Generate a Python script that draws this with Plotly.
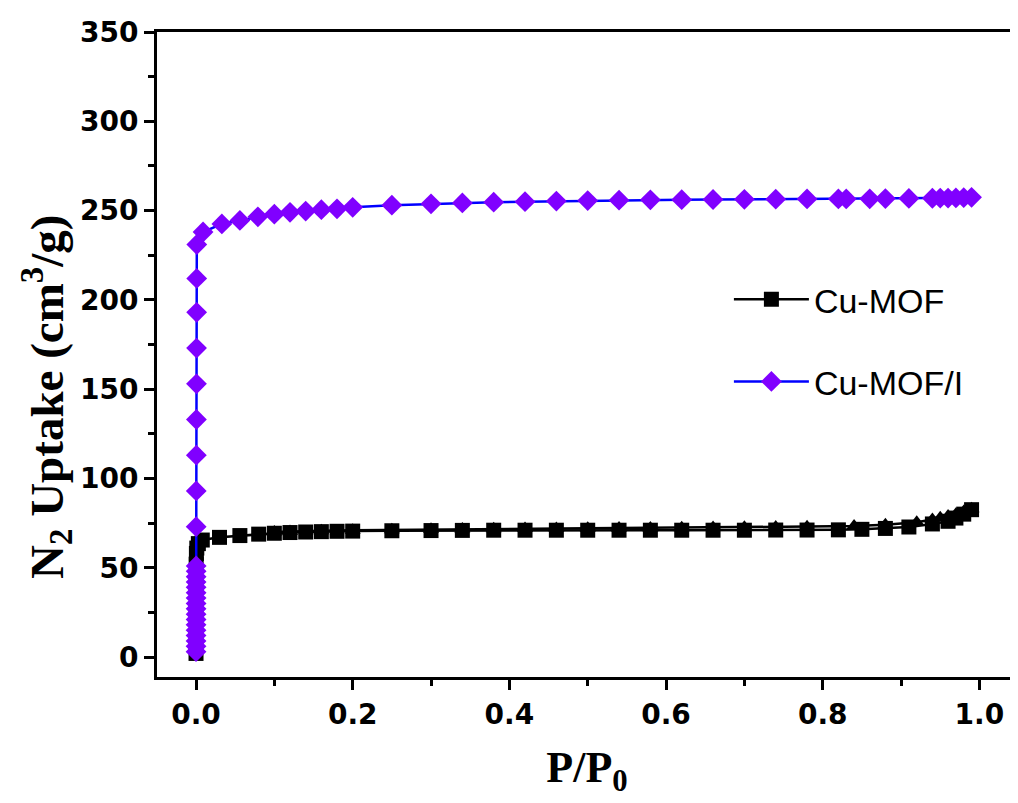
import plotly.graph_objects as go

# Cu-MOF adsorption branch
p_cu_ads = [0.00001, 0.00002, 0.00005, 0.0001, 0.0002, 0.0005, 0.001, 0.003, 0.008,
            0.03, 0.056, 0.08, 0.10, 0.12, 0.14, 0.16, 0.18, 0.20, 0.25, 0.30, 0.34,
            0.38, 0.42, 0.46, 0.50, 0.54, 0.58, 0.62, 0.66, 0.70, 0.74, 0.78, 0.82,
            0.85, 0.88, 0.91, 0.94, 0.96, 0.97, 0.98, 0.99]
v_cu_ads = [2, 10, 25, 40, 52, 58, 61, 63.5, 65.5,
            67, 68, 68.8, 69.3, 69.7, 70, 70.2, 70.4, 70.5, 70.7, 70.8, 70.9,
            71, 71, 71, 71, 71, 71, 71, 71, 71, 71.1, 71.1, 71.2,
            71.5, 72, 72.8, 74.5, 76, 77.8, 80, 82.5]

# Cu-MOF desorption branch
p_cu_des = [0.99, 0.98, 0.97, 0.96, 0.95, 0.94, 0.92, 0.88, 0.84, 0.78, 0.74, 0.70,
            0.66, 0.62, 0.58, 0.54, 0.50, 0.46, 0.42, 0.38, 0.34, 0.30, 0.25, 0.20,
            0.16, 0.12, 0.10]
v_cu_des = [83, 81.5, 80, 79, 78, 77, 75.5, 74, 73.3, 73, 72.8, 72.6,
            72.5, 72.4, 72.3, 72.2, 72.1, 72, 71.9, 71.8, 71.7, 71.5, 71.3, 71,
            70.7, 70.3, 70]

# Cu-MOF/I
p_cui = [0.00001, 0.00002, 0.00003, 0.00004, 0.00005, 0.00006, 0.00007, 0.00008,
         0.00009, 0.0001, 0.00011, 0.00012, 0.00013, 0.00014, 0.00015, 0.00016,
         0.00017, 0.0002, 0.0003, 0.0004, 0.0005, 0.0006, 0.0007, 0.0008, 0.0009,
         0.001, 0.009, 0.033, 0.056, 0.079, 0.10, 0.12, 0.14, 0.16, 0.18, 0.20,
         0.25, 0.30, 0.34, 0.38, 0.42, 0.46, 0.50, 0.54, 0.58, 0.62, 0.66, 0.70,
         0.74, 0.78, 0.82, 0.83, 0.86, 0.88, 0.91, 0.94, 0.95, 0.96, 0.97, 0.98, 0.99]
v_cui = [3, 6, 9, 12, 15, 18, 21, 24, 27, 30, 33, 36, 39, 42, 45, 48, 51,
         73, 93, 113, 133, 153, 173, 193, 212, 231, 238, 242.5, 244.5, 246.5, 248,
         249, 249.7, 250.5, 251, 251.8, 253, 253.8, 254.3, 254.7, 255, 255.3,
         255.6, 255.8, 256, 256.1, 256.2, 256.3, 256.4, 256.5, 256.5, 256.5,
         256.6, 256.7, 256.8, 256.9, 257, 257, 257.1, 257.2, 257.4]

x_ticks = [0.0, 0.2, 0.4, 0.6, 0.8, 1.0]
x_ticklabels = ["0.0", "0.2", "0.4", "0.6", "0.8", "1.0"]
y_ticks = [0, 50, 100, 150, 200, 250, 300, 350]
x_title = "P/P<sub>0</sub>"
y_title = "N<sub>2</sub> Uptake (cm<sup>3</sup>/g)"

fig = go.Figure()

fig.add_trace(go.Scatter(
    x=p_cu_des, y=v_cu_des, mode="lines+markers", showlegend=False,
    line=dict(color="black", width=2.5),
    marker=dict(symbol="triangle-up", size=14, color="black"),
))
fig.add_trace(go.Scatter(
    x=p_cu_ads, y=v_cu_ads, mode="lines+markers", name="Cu-MOF",
    legendgroup="a",
    line=dict(color="black", width=2.5),
    marker=dict(symbol="square", size=15, color="black"),
))
fig.add_trace(go.Scatter(
    x=p_cui, y=v_cui, mode="lines+markers", name="Cu-MOF/I",
    legendgroup="b",
    line=dict(color="#0000FF", width=2.5),
    marker=dict(symbol="diamond", size=16, color="#8000FF"),
))

axis_common = dict(
    showline=True, linecolor="black", linewidth=3, mirror=True,
    ticks="outside", tickwidth=3, ticklen=10, tickcolor="black",
    showgrid=False, zeroline=False, automargin=False,
    tickfont=dict(family="DejaVu Sans", size=28, color="black", weight="bold"),
)

fig.update_xaxes(
    range=[-0.0498, 1.048], tickvals=x_ticks, ticktext=x_ticklabels,
    minor=dict(ticks="outside", dtick=0.1, ticklen=6, tickwidth=3, tickcolor="black"),
    title=dict(text=x_title, standoff=22,
               font=dict(family="Liberation Serif", size=44, color="black", weight="bold")),
    **axis_common,
)
fig.update_yaxes(
    range=[-11.2, 350], tickvals=y_ticks,
    minor=dict(ticks="outside", dtick=25, ticklen=6, tickwidth=3, tickcolor="black"),
    **axis_common,
)

fig.add_annotation(
    text=y_title, xref="paper", yref="paper", x=-0.128, y=0.434,
    xanchor="center", yanchor="middle", textangle=-90, showarrow=False,
    font=dict(family="Liberation Serif", size=47, color="black", weight="bold"),
)

fig.update_layout(
    width=1010, height=795,
    margin=dict(l=149, r=1, t=24, b=126),
    plot_bgcolor="white", paper_bgcolor="white",
    legend=dict(
        x=0.665, y=0.63, xanchor="left", yanchor="top",
        font=dict(family="Liberation Sans", size=34, color="black"),
        tracegroupgap=35, itemwidth=75, bgcolor="rgba(0,0,0,0)",
    ),
)

fig.write_html("out.html")
